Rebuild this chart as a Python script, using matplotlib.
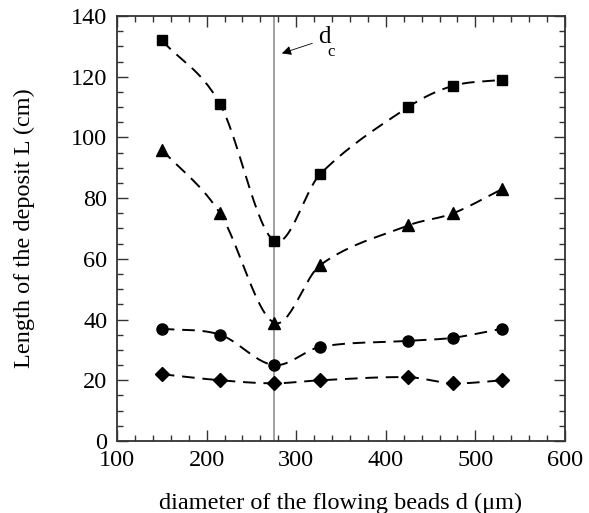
import matplotlib
matplotlib.use('Agg')
import matplotlib.pyplot as plt
from matplotlib.ticker import MultipleLocator
import numpy as np

plt.rcParams['font.family'] = ['Liberation Serif', 'DejaVu Serif']

# bead diameter (um) and deposit lengths (cm)
diam = [150, 215, 275, 327, 425, 475, 530]
L_square = [132, 111, 66, 88, 110, 117, 119]
L_triangle = [96, 75, 39, 58, 71, 75, 83]
L_circle = [37, 35, 25, 31, 33, 34, 37]
L_diamond = [22, 20, 19, 20, 21, 19, 20]
d_c = 275


def smooth(x, y, n=30):
    # cardinal (catmull-rom like) hermite curve through the points
    x = np.asarray(x, float)
    y = np.asarray(y, float)
    m = np.zeros_like(y)
    m[1:-1] = (y[2:] - y[:-2]) / (x[2:] - x[:-2])
    m[0] = (y[1] - y[0]) / (x[1] - x[0])
    m[-1] = (y[-1] - y[-2]) / (x[-1] - x[-2])
    xs, ys = [], []
    for i in range(len(x) - 1):
        h = x[i + 1] - x[i]
        t = np.linspace(0, 1, n, endpoint=False)
        h00 = 2 * t**3 - 3 * t**2 + 1
        h10 = t**3 - 2 * t**2 + t
        h01 = -2 * t**3 + 3 * t**2
        h11 = t**3 - t**2
        xs.append(x[i] + t * h)
        ys.append(h00 * y[i] + h10 * h * m[i] + h01 * y[i + 1] + h11 * h * m[i + 1])
    xs.append([x[-1]])
    ys.append([y[-1]])
    return np.concatenate(xs), np.concatenate(ys)


fig = plt.figure(figsize=(5.89, 5.13), dpi=100)
ax = fig.add_axes([0.1986, 0.1404, 0.7607, 0.8284])

ax.axvline(d_c, color='#999999', lw=1.3, zorder=1)

for vals, mk, ms in [(L_square, 's', 7.5), (L_triangle, '^', 9),
                     (L_circle, 'o', 8), (L_diamond, 'D', 7)]:
    sx, sy = smooth(diam, vals)
    ax.plot(sx, sy, color='black', lw=1.4, dashes=(6.5, 4), zorder=2)
    ax.plot(diam, vals, mk, color='black', ms=ms, zorder=3)

ax.annotate('', xy=(284, 127.7), xytext=(318, 131),
            arrowprops=dict(arrowstyle='-|>', color='black', lw=0.6,
                            mutation_scale=14, shrinkA=0, shrinkB=0))
ax.text(324, 133, 'd', fontsize=18, va='center', ha='left')
ax.text(335, 128, 'c', fontsize=12, va='center', ha='left')

ax.set_xlim(100, 600)
ax.set_ylim(0, 140)
ax.xaxis.set_major_locator(MultipleLocator(100))
ax.xaxis.set_minor_locator(MultipleLocator(20))
ax.yaxis.set_major_locator(MultipleLocator(20))
ax.yaxis.set_minor_locator(MultipleLocator(5))
ax.tick_params(which='both', direction='in', top=True, right=True,
               labelsize=17.5, width=1.0, color='#333333')
ax.tick_params(axis='x', which='major', length=8, pad=6.5)
ax.tick_params(axis='y', which='major', length=8, pad=7)
ax.tick_params(which='minor', length=4)
for s in ax.spines.values():
    s.set_linewidth(1.3)
    s.set_color('#333333')

ax.set_xlabel('diameter of the flowing beads d (\u03bcm)', fontsize=17.5, labelpad=16)
ax.set_ylabel('Length of the deposit L (cm)', fontsize=17.5, labelpad=26)

fig.savefig('out.png', dpi=100)
